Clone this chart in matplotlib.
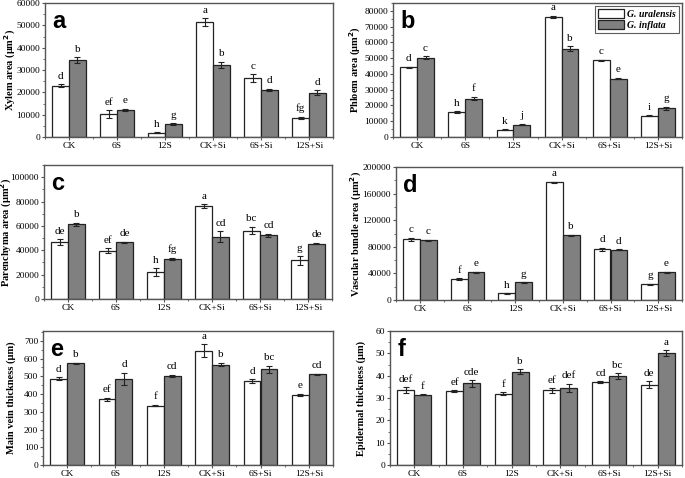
import numpy as np
import matplotlib
matplotlib.use('Agg')
import matplotlib.pyplot as plt
from matplotlib.ticker import MultipleLocator, AutoMinorLocator

plt.rcParams['font.family'] = 'Liberation Serif'

groups = ['CK', '6S', '12S', 'CK+Si', '6S+Si', '12S+Si']
species = ['G. uralensis', 'G. inflata']

# a: xylem area
xylem_ur = [23000, 10200, 1900, 51500, 26500, 8600]
xylem_ur_err = [600, 1700, 200, 1700, 1700, 500]
xylem_in = [34500, 12200, 5800, 32300, 21000, 19800]
xylem_in_err = [1200, 500, 300, 1300, 600, 1200]
xylem_ur_let = ['d', 'ef', 'h', 'a', 'c', 'fg']
xylem_in_let = ['b', 'e', 'g', 'b', 'd', 'd']

# b: phloem area
phloem_ur = [44300, 15900, 4500, 76400, 48800, 13400]
phloem_ur_err = [400, 500, 300, 600, 300, 300]
phloem_in = [50300, 24400, 7900, 56000, 37100, 18300]
phloem_in_err = [1000, 1000, 500, 1500, 600, 1000]
phloem_ur_let = ['d', 'h', 'k', 'a', 'c', 'i']
phloem_in_let = ['c', 'f', 'j', 'b', 'e', 'g']

# c: parenchyma area
paren_ur = [46600, 39700, 22200, 76200, 56200, 31800]
paren_ur_err = [2500, 1800, 3000, 1500, 3000, 3500]
paren_in = [61400, 46600, 32900, 51200, 52300, 45500]
paren_in_err = [1300, 500, 800, 4500, 1200, 700]
paren_ur_let = ['de', 'ef', 'h', 'a', 'bc', 'g']
paren_in_let = ['b', 'de', 'fg', 'cd', 'cd', 'de']

# d: vascular bundle area
vasc_ur = [91300, 31400, 10000, 177000, 76300, 24000]
vasc_ur_err = [2000, 1000, 500, 1000, 2000, 700]
vasc_in = [89800, 41400, 26400, 97300, 75800, 41400]
vasc_in_err = [800, 1000, 500, 800, 800, 800]
vasc_ur_let = ['c', 'f', 'h', 'a', 'd', 'g']
vasc_in_let = ['c', 'e', 'g', 'b', 'd', 'e']

# e: main vein thickness
vein_ur = [487, 370, 335, 644, 472, 396]
vein_ur_err = [8, 8, 5, 35, 10, 5]
vein_in = [572, 486, 503, 566, 540, 512]
vein_in_err = [5, 35, 5, 10, 20, 3]
vein_ur_let = ['d', 'ef', 'f', 'a', 'd', 'e']
vein_in_let = ['b', 'd', 'cd', 'b', 'bc', 'cd']

# f: epidermal thickness
epi_ur = [33.6, 33.1, 31.9, 33.4, 37.1, 36.0]
epi_ur_err = [1.3, 0.4, 0.6, 1.0, 0.4, 1.5]
epi_in = [31.5, 36.5, 41.8, 34.6, 39.8, 50.2]
epi_in_err = [0.3, 1.5, 1.0, 1.7, 1.3, 1.2]
epi_ur_let = ['def', 'ef', 'f', 'ef', 'cd', 'de']
epi_in_let = ['f', 'cde', 'b', 'def', 'bc', 'a']

panels = [
  ('a', 'Xylem area (μm$^{\\mathbf{2}}$)', xylem_ur, xylem_ur_err, xylem_in, xylem_in_err, xylem_ur_let, xylem_in_let, 60000, 10000),
  ('b', 'Phloem area (μm$^{\\mathbf{2}}$)', phloem_ur, phloem_ur_err, phloem_in, phloem_in_err, phloem_ur_let, phloem_in_let, 85000, 10000),
  ('c', 'Parenchyma area (μm$^{\\mathbf{2}}$)', paren_ur, paren_ur_err, paren_in, paren_in_err, paren_ur_let, paren_in_let, 110000, 20000),
  ('d', 'Vascular bundle area (μm$^{\\mathbf{2}}$)', vasc_ur, vasc_ur_err, vasc_in, vasc_in_err, vasc_ur_let, vasc_in_let, 200000, 40000),
  ('e', 'Main vein thickness (μm)', vein_ur, vein_ur_err, vein_in, vein_in_err, vein_ur_let, vein_in_let, 755, 100),
  ('f', 'Epidermal thickness (μm)', epi_ur, epi_ur_err, epi_in, epi_in_err, epi_ur_let, epi_in_let, 60, 10),
]

# axes boxes in pixels: left, right, top, bottom, and x centre of the y label
W, H = 685, 478
boxes = [(45, 333, 3, 137, 10), (393, 682, 3, 137, 355),
         (44, 332, 165, 299, 6.5), (396, 682, 167, 300, 356),
         (43, 333, 331, 465, 11), (390, 682, 331, 465, 361)]

fig = plt.figure(figsize=(W/100, H/100), dpi=100)
x = np.arange(len(groups))
w = 0.35
edge = '#555555'

for k, p in enumerate(panels):
  tag, ylab, ur, ur_err, inf, inf_err, ur_let, inf_let, ymax, step = p
  l, r, t, b, lx = boxes[k]
  ax = fig.add_axes([l/W, 1-b/H, (r-l)/W, (b-t)/H])
  ax.bar(x - w/2, ur, w, color='white', edgecolor='#222222', linewidth=0.9, label=species[0])
  ax.bar(x + w/2, inf, w, color='#808080', edgecolor='#222222', linewidth=0.9, label=species[1])
  ax.errorbar(x - w/2, ur, yerr=ur_err, fmt='none', ecolor='#222222', elinewidth=0.8, capsize=2, capthick=0.8)
  ax.errorbar(x + w/2, inf, yerr=inf_err, fmt='none', ecolor='#222222', elinewidth=0.8, capsize=2, capthick=0.8)
  for i in range(len(groups)):
    ax.annotate(ur_let[i], (x[i]-w/2, ur[i]+ur_err[i]), xytext=(0, 2.5), textcoords='offset points',
                ha='center', va='bottom', fontsize=8)
    ax.annotate(inf_let[i], (x[i]+w/2, inf[i]+inf_err[i]), xytext=(0, 2.5), textcoords='offset points',
                ha='center', va='bottom', fontsize=8)
  ax.set_xlim(-0.5, 5.5)
  ax.set_ylim(0, ymax)
  ax.set_xticks(x)
  ax.set_xticklabels(groups)
  ax.xaxis.set_minor_locator(MultipleLocator(0.5))
  ax.yaxis.set_major_locator(MultipleLocator(step))
  ax.yaxis.set_minor_locator(AutoMinorLocator(2))
  ax.tick_params(axis='both', which='major', direction='out', length=2.5, width=0.8, labelsize=6.8, pad=1, color=edge)
  ax.tick_params(axis='both', which='minor', direction='out', length=1.5, width=0.6, color=edge)
  for s in ax.spines.values():
    s.set_color(edge)
    s.set_linewidth(1.0)
  ax.set_ylabel(ylab, fontsize=7.5, fontweight='bold', va='center')
  ax.yaxis.set_label_coords((lx - l)/(r - l), 0.5)
  ax.text(0.025, 0.95, tag, transform=ax.transAxes, ha='left', va='top',
          fontsize=17, fontweight='bold', family='Liberation Sans')
  if tag == 'b':
    leg = ax.legend(loc='upper right', frameon=True, fancybox=False,
                    edgecolor='#333333', borderpad=0.3, handlelength=2.6, handleheight=1.0,
                    handletextpad=0.4, labelspacing=0.2, borderaxespad=0.3,
                    prop={'family': 'Liberation Serif', 'style': 'italic', 'weight': 'bold', 'size': 7})
    leg.get_frame().set_linewidth(0.8)

plt.savefig('out.png', dpi=100)
